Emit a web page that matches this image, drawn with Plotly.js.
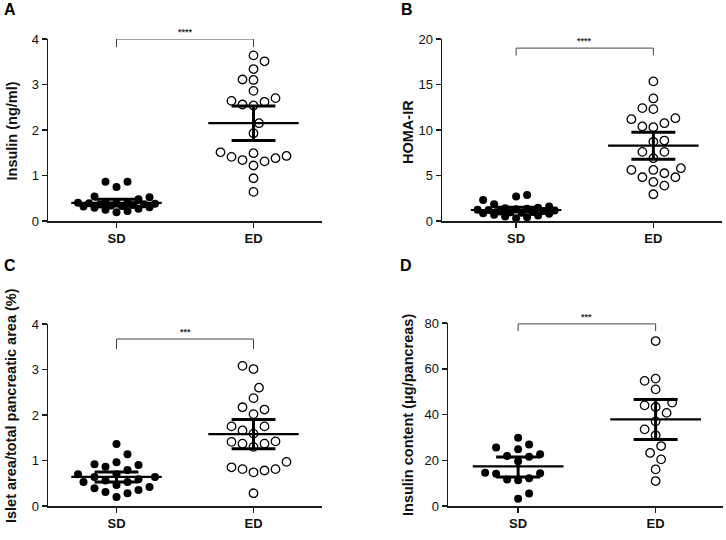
<!DOCTYPE html>
<html><head><meta charset="utf-8">
<script src="https://cdn.plot.ly/plotly-3.0.1.min.js"></script>
<style>html,body{margin:0;padding:0;background:#fff}#chart{width:726px;height:540px}</style>
</head><body><div id="chart"></div>
<script>
// ---------- data ----------
const groups = ['SD', 'ED'];
const panelLetters = ['A', 'B', 'C', 'D'];
const yTitles = ['Insulin (ng/ml)', 'HOMA-IR', 'Islet area/total pancreatic area (%)', 'Insulin content (μg/pancreas)'];
const sigLabels = ['****', '****', '***', '***'];

const insulinSD = [0.86, 0.86, 0.75, 0.54, 0.52, 0.48, 0.42, 0.41, 0.40, 0.40, 0.39, 0.38, 0.37, 0.36, 0.35, 0.34, 0.33, 0.32, 0.30, 0.29, 0.27, 0.25, 0.22, 0.19];
const insulinED = [3.64, 3.51, 3.34, 3.11, 3.10, 2.86, 2.64, 2.54, 2.56, 2.62, 2.70, 2.15, 1.93, 1.51, 1.41, 1.34, 1.22, 1.31, 1.49, 1.38, 1.43, 0.94, 0.64];
const insulinMean = [0.40, 2.15], insulinLow = [0.33, 1.77], insulinHigh = [0.48, 2.53];

const homaSD = [2.85, 2.68, 2.30, 1.85, 1.60, 1.45, 1.40, 1.35, 1.30, 1.25, 1.20, 1.15, 1.10, 1.05, 1.00, 0.95, 0.90, 0.85, 0.80, 0.70, 0.60, 0.50, 0.40, 0.30];
const homaED = [15.34, 13.47, 12.29, 12.40, 11.19, 11.30, 10.39, 10.31, 10.75, 8.70, 8.84, 7.60, 7.60, 6.90, 5.80, 5.61, 5.61, 5.25, 4.81, 4.81, 4.29, 3.89, 2.94];
const homaMean = [1.21, 8.29], homaLow = [1.03, 6.79], homaHigh = [1.50, 9.76];

const isletSD = [1.36, 1.14, 0.96, 0.92, 0.90, 0.86, 0.79, 0.70, 0.70, 0.64, 0.64, 0.59, 0.56, 0.53, 0.53, 0.46, 0.42, 0.39, 0.35, 0.31, 0.28, 0.20];
const isletED = [3.08, 3.01, 2.60, 2.37, 2.17, 2.12, 2.02, 1.75, 1.75, 1.66, 1.59, 1.42, 1.37, 1.30, 1.37, 1.41, 0.97, 0.81, 0.78, 0.74, 0.81, 0.85, 0.28];
const isletMean = [0.64, 1.58], isletLow = [0.53, 1.26], isletHigh = [0.75, 1.90];

const contentSD = [29.8, 26.9, 25.6, 24.8, 22.6, 21.9, 21.5, 19.6, 14.5, 14.3, 14.1, 12.1, 11.6, 11.3, 5.5, 3.2];
const contentED = [72.1, 55.7, 54.7, 51.0, 44.0, 43.3, 45.2, 40.7, 37.0, 33.5, 30.9, 26.2, 23.2, 20.4, 16.0, 10.9];
const contentMean = [17.3, 37.9], contentLow = [12.7, 29.1], contentHigh = [21.4, 46.6];

const yTicksA = [0, 1, 2, 3, 4];
const yTicksB = [0, 5, 10, 15, 20];
const yTicksC = [0, 1, 2, 3, 4];
const yTicksD = [0, 20, 40, 60, 80];

// ---------- layout config ----------
const W = 726, H = 540;
const panels = [
  {px: [48, 322], py: [39, 221], xr: [-0.5, 1.5], yr: [0, 4], ticks: yTicksA, sd: insulinSD, ed: insulinED, mean: insulinMean, low: insulinLow, high: insulinHigh, sigTop: 4.0, sigBot: 3.82, letterPos: [2, 10], titlePos: [11.5, 131]},
  {px: [442, 722], py: [39, 221], xr: [-0.54, 1.5], yr: [0, 20], ticks: yTicksB, sd: homaSD, ed: homaED, mean: homaMean, low: homaLow, high: homaHigh, sigTop: 19.0, sigBot: 18.2, letterPos: [399, 9], titlePos: [408, 132]},
  {px: [48, 322], py: [324, 506], xr: [-0.5, 1.5], yr: [0, 4], ticks: yTicksC, sd: isletSD, ed: isletED, mean: isletMean, low: isletLow, high: isletHigh, sigTop: 3.67, sigBot: 3.45, letterPos: [2, 265], titlePos: [11, 406]},
  {px: [448, 723], py: [323, 506], xr: [-0.51, 1.49], yr: [0, 80], ticks: yTicksD, sd: contentSD, ed: contentED, mean: contentMean, low: contentLow, high: contentHigh, sigTop: 79.6, sigBot: 76.5, letterPos: [398, 265], titlePos: [408, 415]}
];

// beeswarm layout in pixel space, with a maximum half-width (points overlap when crowded)
function swarm(vals, center, xpu, ypu) {
  const D = 10.5, h = 5.5, maxW = 42;
  const order = vals.map((v, i) => i).sort((a, b) => vals[a] - vals[b]);
  const placed = [];
  const xs = new Array(vals.length);
  let flip = 1;
  const kMax = Math.floor(maxW / h);
  for (const i of order) {
    const yp = vals[i] * ypu;
    const cands = [0];
    for (let k = 1; k <= kMax; k++) cands.push(flip * k * h, -flip * k * h);
    let chosen = null, best = null, bestD = -1;
    for (const c of cands) {
      const md = placed.length ? Math.min(...placed.map(p => Math.hypot(p.x - c, p.y - yp))) : Infinity;
      if (md >= D) { chosen = c; break; }
      if (md > bestD + 0.01) { bestD = md; best = c; }
    }
    if (chosen === null) chosen = best;
    if (chosen !== 0) flip = -flip;
    placed.push({x: chosen, y: yp});
    xs[i] = center + chosen / xpu;
  }
  return xs;
}

const font = 'Arial, "Liberation Sans", sans-serif';
const traces = [];
const layout = {
  width: W, height: H, margin: {l: 0, r: 0, t: 0, b: 0},
  paper_bgcolor: '#fff', plot_bgcolor: '#fff', showlegend: false,
  font: {family: font, color: '#111'},
  shapes: [], annotations: []
};

panels.forEach((p, idx) => {
  const n = idx + 1;
  const xa = 'x' + (n === 1 ? '' : n), ya = 'y' + (n === 1 ? '' : n);
  const xk = 'xaxis' + (n === 1 ? '' : n), yk = 'yaxis' + (n === 1 ? '' : n);
  layout[xk] = {
    domain: [p.px[0] / W, p.px[1] / W], range: p.xr, anchor: ya,
    showline: true, linecolor: '#1a1a1a', linewidth: 1.5, mirror: false,
    ticks: 'outside', ticklen: 5, tickwidth: 1.5, tickcolor: '#1a1a1a',
    tickvals: [0, 1], ticktext: groups.map(g => '<b>' + g + '</b>'),
    tickfont: {family: font, size: 13, color: '#111'},
    showgrid: false, zeroline: false, fixedrange: true
  };
  layout[yk] = {
    domain: [1 - p.py[1] / H, 1 - p.py[0] / H], range: p.yr, anchor: xa,
    showline: true, linecolor: '#1a1a1a', linewidth: 1.5,
    ticks: 'outside', ticklen: 5, tickwidth: 1.5, tickcolor: '#1a1a1a',
    tickvals: p.ticks, tickfont: {family: font, size: 13, color: '#111'},
    showgrid: false, zeroline: false, fixedrange: true
  };
  const xpu = (p.px[1] - p.px[0]) / (p.xr[1] - p.xr[0]);
  const ypu = (p.py[1] - p.py[0]) / (p.yr[1] - p.yr[0]);

  // points
  traces.push({x: swarm(p.sd, 0, xpu, ypu), y: p.sd, xaxis: xa, yaxis: ya, mode: 'markers', name: groups[0],
    marker: {color: '#000', size: 8, symbol: 'circle'}, cliponaxis: false});
  traces.push({x: swarm(p.ed, 1, xpu, ypu), y: p.ed, xaxis: xa, yaxis: ya, mode: 'markers', name: groups[1],
    marker: {color: '#000', size: 8.5, symbol: 'circle-open', line: {width: 1.3}}, cliponaxis: false});

  // mean & error bars
  const mx = [], my = [], ex = [], ey = [];
  [0, 1].forEach(g => {
    mx.push(g - 0.33, g + 0.33, null); my.push(p.mean[g], p.mean[g], null);
    ex.push(g, g, null, g - 0.16, g + 0.16, null, g - 0.16, g + 0.16, null);
    ey.push(p.low[g], p.high[g], null, p.low[g], p.low[g], null, p.high[g], p.high[g], null);
  });
  traces.push({x: mx, y: my, xaxis: xa, yaxis: ya, mode: 'lines', line: {color: '#000', width: 2.2}, hoverinfo: 'skip', cliponaxis: false});
  traces.push({x: ex, y: ey, xaxis: xa, yaxis: ya, mode: 'lines', line: {color: '#000', width: 3}, hoverinfo: 'skip', cliponaxis: false});

  // significance bracket
  layout.shapes.push({type: 'path', xref: xa, yref: ya,
    path: `M 0,${p.sigBot} L 0,${p.sigTop} L 1,${p.sigTop} L 1,${p.sigBot}`,
    line: {color: '#444', width: 1}});
  layout.annotations.push({xref: xa, yref: ya, x: 0.5, y: p.sigTop, yanchor: 'bottom', yshift: 0,
    text: '<b>' + sigLabels[idx] + '</b>', showarrow: false, font: {family: font, size: 9, color: '#333'}});

  // panel letter
  layout.annotations.push({xref: 'paper', yref: 'paper', x: p.letterPos[0] / W, y: 1 - p.letterPos[1] / H,
    xanchor: 'left', yanchor: 'middle', text: '<b>' + panelLetters[idx] + '</b>', showarrow: false,
    font: {family: font, size: 16, color: '#000'}});
  // y title
  layout.annotations.push({xref: 'paper', yref: 'paper', x: p.titlePos[0] / W, y: 1 - p.titlePos[1] / H,
    xanchor: 'center', yanchor: 'middle', textangle: -90, text: '<b>' + yTitles[idx] + '</b>', showarrow: false,
    font: {family: font, size: 14.5, color: '#111'}});
});

Plotly.newPlot('chart', traces, layout, {staticPlot: true, displayModeBar: false});
</script>
</body></html>
